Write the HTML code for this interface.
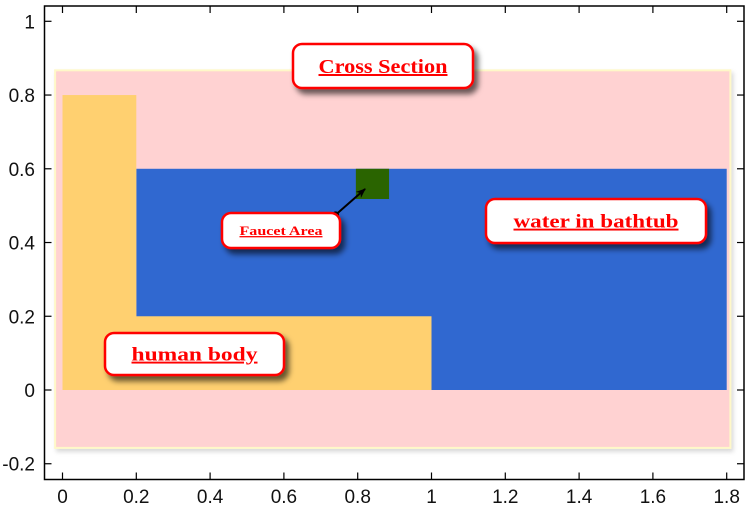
<!DOCTYPE html>
<html><head><meta charset="utf-8"><style>
body{margin:0;background:#fff}
svg{display:block}
.t{font-family:"Liberation Sans",sans-serif;font-size:19px;fill:#111}
.lb{font-family:"Liberation Serif",serif;font-weight:bold;fill:#f00;text-decoration:underline}
</style></head><body>
<svg id="c" width="751" height="515">
<defs>
<filter id="sh" x="-20%" y="-20%" width="150%" height="160%"><feDropShadow dx="4" dy="5" stdDeviation="3" flood-color="#000" flood-opacity="0.6"/></filter>
<filter id="sh2" x="-5%" y="-5%" width="110%" height="110%"><feDropShadow dx="2" dy="3" stdDeviation="2" flood-color="#000" flood-opacity="0.15"/></filter>
<marker id="ah" markerWidth="10" markerHeight="8" refX="9" refY="4" orient="auto" markerUnits="userSpaceOnUse"><path d="M0,0 L10,4 L0,8 L3,4 Z" fill="#000"/></marker>
</defs>
<g id="plot"></g>
</svg>
<script>
const xTicks=[0,0.2,0.4,0.6,0.8,1,1.2,1.4,1.6,1.8];
const yTicks=[-0.2,0,0.2,0.4,0.6,0.8,1];
const rectNames=['cross-section-rect','water-rect','body-vertical','body-horizontal','faucet-area'];
const rectX0=[-0.02,0.2,0,0,0.795];
const rectX1=[1.81,1.8,0.2,1,0.885];
const rectY0=[-0.157,0,0,0,0.518];
const rectY1=[0.867,0.6,0.8,0.2,0.6];
const rectFill=['#ffd2d2','#3068d0','#ffd070','#ffd070','#2a6400'];
const X=v=>62.5+v*369, Y=v=>390-v*368.7;
const L={x0:44.5,x1:744,y0:6,y1:479.5};
const NS='http://www.w3.org/2000/svg';
const g=document.getElementById('plot');
function mk(t,a,p){const e=document.createElementNS(NS,t);for(const k in a)e.setAttribute(k,a[k]);(p||g).appendChild(e);return e;}
rectNames.forEach((n,i)=>{
  const a={x:X(rectX0[i]),y:Y(rectY1[i]),width:X(rectX1[i])-X(rectX0[i]),height:Y(rectY0[i])-Y(rectY1[i]),fill:rectFill[i]};
  if(i===0){a.stroke='#fff8c8';a.filter='url(#sh2)';a['stroke-width']=2;}
  const r=mk('rect',a);
  
  
});
const ar=mk('line',{x1:X(0.74),y1:Y(0.475),x2:X(0.82),y2:Y(0.545),stroke:'#000','stroke-width':2,'marker-end':'url(#ah)'});


const dot=mk('circle',{cx:X(0.74),cy:Y(0.475),r:3.5,fill:'#000'});


const labText=['Cross Section','Faucet Area','water in bathtub','human body'];
const labBox=[[293,44,180,44,20,129],[222,213,118,35,13,83],[486,199,220,44,19,165],[105,333,179,42,19,126]];
labText.forEach((t,i)=>{
  const [x,y,w,h,fs,tl]=labBox[i];
  const gg=mk('g',{});
  
  
  mk('rect',{x:x,y:y,width:w,height:h,rx:9,fill:'#fff',stroke:'#f00','stroke-width':2.5,filter:'url(#sh)'},gg);
  const tx=mk('text',{x:x+w/2,y:y+h/2+fs*0.35,'text-anchor':'middle',class:'lb','font-size':fs,textLength:tl,lengthAdjust:'spacingAndGlyphs'},gg);
  tx.textContent=t;
});
const fr=mk('rect',{x:L.x0,y:L.y0,width:L.x1-L.x0,height:L.y1-L.y0,fill:'none',stroke:'#000','stroke-width':1.5});


xTicks.forEach(v=>{
  const x=X(v);
  mk('line',{x1:x,x2:x,y1:L.y1,y2:L.y1-7,stroke:'#000','stroke-width':1.2});
  mk('line',{x1:x,x2:x,y1:L.y0,y2:L.y0+7,stroke:'#000','stroke-width':1.2});
  const t=mk('text',{x:x,y:503,'text-anchor':'middle',class:'t'});
  t.textContent=String(v);
  
  
});
yTicks.forEach(v=>{
  const y=Y(v);
  mk('line',{x1:L.x0,x2:L.x0+7,y1:y,y2:y,stroke:'#000','stroke-width':1.2});
  mk('line',{x1:L.x1,x2:L.x1-7,y1:y,y2:y,stroke:'#000','stroke-width':1.2});
  const t=mk('text',{x:35,y:y+7,'text-anchor':'end',class:'t'});
  t.textContent=String(v);
  
  
});
</script>
</body></html>
